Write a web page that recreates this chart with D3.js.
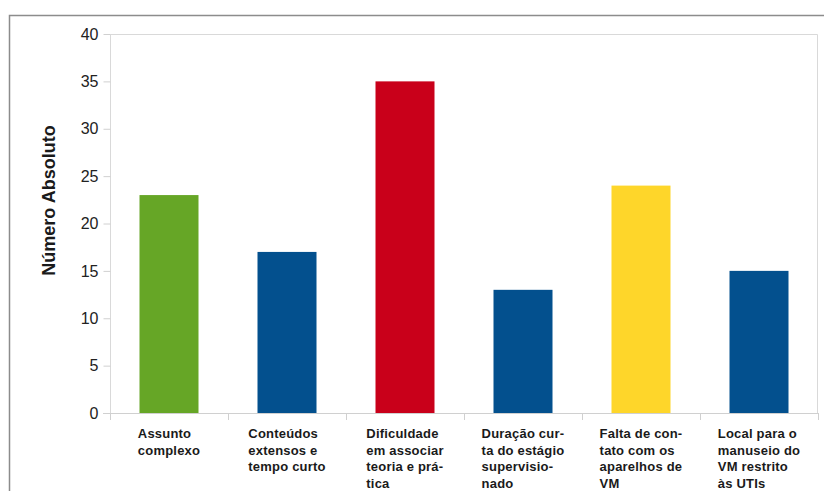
<!DOCTYPE html>
<html>
<head>
<meta charset="utf-8">
<script src="https://cdn.jsdelivr.net/npm/d3@7"></script>
<style>
  html, body { margin: 0; padding: 0; background: #fff; }
  svg { display: block; }
</style>
</head>
<body>
<svg id="chart" width="824" height="491"></svg>
<script>
// Category labels, already broken into lines (with hyphenation)
const categories = [
  ["Assunto", "complexo"],
  ["Conteúdos", "extensos e", "tempo curto"],
  ["Dificuldade", "em associar", "teoria e prá-", "tica"],
  ["Duração cur-", "ta do estágio", "supervisio-", "nado"],
  ["Falta de con-", "tato com os", "aparelhos de", "VM"],
  ["Local para o", "manuseio do", "VM restrito", "às UTIs"]
];
const values = [23, 17, 35, 13, 24, 15];
const barColors = ["#66a626", "#03508e", "#c9001a", "#03508e", "#fed62a", "#03508e"];
const yTicks = [0, 5, 10, 15, 20, 25, 30, 35, 40];
const yTitle = "Número Absoluto";

const svg = d3.select("#chart");
const plot = { left: 110, right: 818, top: 34, bottom: 413 };

// Outer frame of the chart
svg.append("path")
  .attr("d", "M9.5,491 L9.5,15.5 L824,15.5")
  .attr("fill", "none")
  .attr("stroke", "#8c8c8c")
  .attr("stroke-width", 1.5);

const x = d3.scaleBand()
  .domain(d3.range(categories.length))
  .range([plot.left, plot.right])
  .paddingInner(0.5)
  .paddingOuter(0.25);

const y = d3.scaleLinear()
  .domain([0, 40])
  .range([plot.bottom, plot.top]);

// Plot area border (left, top, right)
svg.append("path")
  .attr("d", `M${plot.left + 0.5},${plot.bottom} L${plot.left + 0.5},${plot.top + 0.5} L${plot.right - 0.5},${plot.top + 0.5} L${plot.right - 0.5},${plot.bottom}`)
  .attr("fill", "none")
  .attr("stroke", "#d9d9d9")
  .attr("stroke-width", 1);

// Bars
svg.append("g").selectAll("rect")
  .data(values)
  .join("rect")
  .attr("x", (d, i) => x(i))
  .attr("width", x.bandwidth())
  .attr("y", d => y(d))
  .attr("height", d => y(0) - y(d))
  .attr("fill", (d, i) => barColors[i]);

// Y axis
const yAxis = svg.append("g")
  .attr("transform", `translate(${plot.left + 0.5},0)`)
  .call(d3.axisLeft(y).tickValues(yTicks).tickSize(7).tickPadding(5).tickFormat(d3.format("d")));
yAxis.select(".domain").remove();
yAxis.selectAll(".tick line").attr("stroke", "#d0d0d0");
yAxis.selectAll(".tick text")
  .attr("fill", "#222")
  .style("font-family", "'Liberation Sans', Arial, sans-serif")
  .style("font-size", "16px");

// X axis baseline and category separators
const bandStep = x.step();
const xAxis = svg.append("g");
xAxis.append("line")
  .attr("x1", plot.left - 7).attr("x2", plot.right)
  .attr("y1", plot.bottom + 0.5).attr("y2", plot.bottom + 0.5)
  .attr("stroke", "#d0d0d0");
xAxis.selectAll("line.sep")
  .data(d3.range(categories.length + 1))
  .join("line")
  .attr("class", "sep")
  .attr("x1", i => Math.round(plot.left + i * bandStep) + 0.5)
  .attr("x2", i => Math.round(plot.left + i * bandStep) + 0.5)
  .attr("y1", plot.bottom)
  .attr("y2", plot.bottom + 7)
  .attr("stroke", "#d0d0d0");

// Category labels: left-aligned lines, block centred under each bar
const labelGroups = svg.append("g").selectAll("text")
  .data(categories)
  .join("text")
  .style("font-family", "'Liberation Sans', Arial, sans-serif")
  .style("font-size", "13px")
  .style("font-weight", "bold")
  .style("letter-spacing", "0.2px")
  .attr("fill", "#1a1a1a");

labelGroups.each(function(lines, i) {
  const t = d3.select(this);
  lines.forEach((line, j) => {
    t.append("tspan")
      .attr("x", 0)
      .attr("y", 438 + j * 16.5)
      .text(line);
  });
  const w = this.getBBox().width;
  const cx = x(i) + x.bandwidth() / 2;
  t.selectAll("tspan").attr("x", cx - w / 2);
});

// Y axis title
svg.append("text")
  .attr("transform", `translate(55,${(plot.top + plot.bottom) / 2 - 23}) rotate(-90)`)
  .attr("text-anchor", "middle")
  .style("font-family", "'Liberation Sans', Arial, sans-serif")
  .style("font-size", "18px")
  .style("font-weight", "bold")
  .attr("fill", "#1a1a1a")
  .text(yTitle);
</script>
</body>
</html>
